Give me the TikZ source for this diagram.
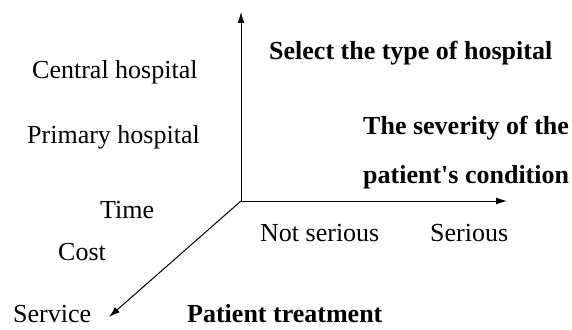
\documentclass[tikz,border=0pt]{standalone}
\usepackage{fontspec}
\setmainfont{Liberation Serif}
\usetikzlibrary{arrows.meta}

\begin{document}
\begin{tikzpicture}[x=1pt,y=-1pt,
    axis/.style={-{Latex[length=11pt,width=7pt]}, line width=1pt},
    lbl/.style={anchor=west, inner sep=0pt, font=\fontsize{26}{30}\selectfont},
    title/.style={lbl, font=\fontsize{26}{30}\selectfont\bfseries}]
    \useasboundingbox (0,0) rectangle (572,329);
    % axes
    \coordinate (o) at (241,201);
    \coordinate (up) at (241,12);
    \coordinate (right) at (507,201);
    \coordinate (down) at (109,317);
    \draw[axis] (o) -- (up);
    \draw[axis] (o) -- (right);
    \draw[axis] (o) -- (down);
    % values
    \node[lbl] (central) at (32,72) {Central hospital};
    \node[lbl] (primary) at (27,137) {Primary hospital};
    \node[lbl] (time) at (100,210) {Time};
    \node[lbl] (cost) at (58,252) {Cost};
    \node[lbl] (service) at (13,314) {Service};
    \node[lbl] (notserious) at (260,233) {Not serious};
    \node[lbl] (serious) at (430,233) {Serious};
    % axis titles
    \node[title] (select) at (269,53) {Select the type of hospital};
    \node[title] (severity) at (363,128) {The severity of the};
    \node[title] (condition) at (363,177) {patient\textquotesingle s condition};
    \node[title] (treatment) at (187,314) {Patient treatment};
\end{tikzpicture}
\end{document}
